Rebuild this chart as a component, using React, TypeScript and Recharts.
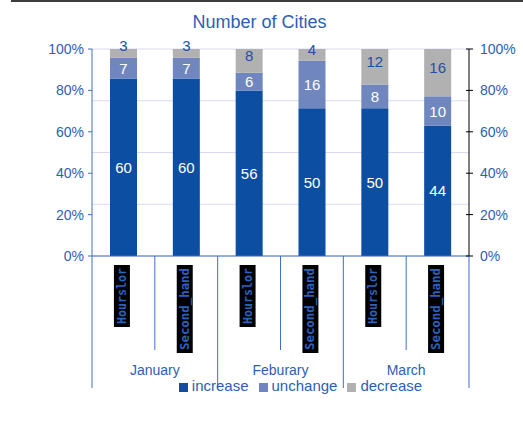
import React from 'react';
import { BarChart, Bar, XAxis, YAxis, CartesianGrid, Legend, LabelList } from 'recharts';

const months = ['January', 'Feburary', 'March'];
const sellers = ['Hourslor', 'Second_hand'];
const seriesNames = ['increase', 'unchange', 'decrease'];
const increase = [60, 60, 56, 50, 50, 44];
const unchange = [7, 7, 6, 16, 8, 10];
const decrease = [3, 3, 8, 4, 12, 16];
const percentTicks = [0, 0.2, 0.4, 0.6, 0.8, 1];

const data = increase.map((v, i) => ({
  key: `${months[Math.floor(i / 2)]}-${sellers[i % 2]}`,
  month: months[Math.floor(i / 2)],
  seller: sellers[i % 2],
  increase: v,
  unchange: unchange[i],
  decrease: decrease[i],
}));

const FONT = '"Liberation Sans", Arial, sans-serif';
const TEXT_BLUE = '#2D5EB5';
const LINE_BLUE = '#3F6FC4';

const pct = (v: number) => `${Math.round(v * 100)}%`;

function CategoryTick(props: any) {
  const { x, y, payload } = props;
  const idx = payload?.index ?? props.index;
  const half = payload?.offset ?? 31.4;
  const row = data[idx];
  const boxH = row.seller === 'Hourslor' ? 62 : 88;
  const cx = x - 1.5;
  const top = y + 9;
  const cy = top + boxH / 2;
  const groupStart = idx % 2 === 0;
  return (
    <g>
      <line x1={x - half} y1={y} x2={x - half} y2={y + (groupStart ? 132 : 94)} stroke={LINE_BLUE} />
      {idx === data.length - 1 && (
        <line x1={x + half} y1={y} x2={x + half} y2={y + 132} stroke={LINE_BLUE} />
      )}
      <rect x={cx - 8} y={top} width={16} height={boxH} fill="#000" />
      <text
        x={cx}
        y={cy}
        transform={`rotate(-90 ${cx} ${cy})`}
        textAnchor="middle"
        dominantBaseline="central"
        textLength={boxH - 6}
        lengthAdjust="spacingAndGlyphs"
        fontFamily='"DejaVu Sans Mono", monospace'
        fontWeight="bold"
        fontSize={12}
        fill="#2A62C0"
      >
        {row.seller}
      </text>
      {!groupStart && (
        <text x={x - half} y={y + 114} textAnchor="middle" dominantBaseline="central" fontFamily={FONT} fontSize={14} fill={TEXT_BLUE}>
          {row.month}
        </text>
      )}
    </g>
  );
}

function RightTick(props: any) {
  const { x, y, payload } = props;
  return (
    <g>
      <line x1={x - 14} y1={y} x2={x - 7} y2={y} stroke="#000" />
      <text x={x} y={y} dominantBaseline="central" fontFamily={FONT} fontSize={14} fill={TEXT_BLUE}>
        {pct(payload.value)}
      </text>
    </g>
  );
}

// small segments push their label up above the bar top, like the original
const segmentLabel = (color: string, dy: number) => (p: any) => {
  const { x, y, width, height, value } = p;
  const shift = height < 10 ? dy - 3 : dy;
  return (
    <text
      x={x + width / 2}
      y={y + height / 2 + shift}
      textAnchor="middle"
      dominantBaseline="central"
      fontFamily={FONT}
      fontSize={15}
      fill={color}
    >
      {value}
    </text>
  );
};

export default function App() {
  return (
    <div style={{ position: 'absolute', left: 0, top: 0, width: 523, height: 421, background: '#fff' }}>
      <div style={{ position: 'absolute', left: 11, top: 0, right: 0, height: 2, background: '#3c3c3c' }} />
      <div
        style={{
          position: 'absolute',
          top: 12,
          left: 0,
          width: 519,
          textAlign: 'center',
          fontFamily: FONT,
          fontSize: 18,
          color: TEXT_BLUE,
        }}
      >
        Number of Cities
      </div>
      <BarChart
        width={523}
        height={421}
        data={data}
        stackOffset="expand"
        margin={{ top: 49, right: 0, left: 0, bottom: 30 }}
      >
        <CartesianGrid vertical={false} stroke="#D8DBEE" />
        <XAxis
          dataKey="key"
          interval={0}
          height={135}
          tickLine={false}
          tickSize={0}
          tickMargin={0}
          axisLine={{ stroke: LINE_BLUE }}
          tick={<CategoryTick />}
        />
        <YAxis
          yAxisId="left"
          width={92}
          domain={[0, 1]}
          ticks={percentTicks}
          tickFormatter={pct}
          tickSize={4}
          tickMargin={4}
          axisLine={{ stroke: LINE_BLUE }}
          tickLine={{ stroke: LINE_BLUE }}
          tick={{ fill: TEXT_BLUE, fontSize: 14, fontFamily: FONT }}
        />
        <YAxis
          yAxisId="right"
          orientation="right"
          width={54}
          domain={[0, 1]}
          ticks={percentTicks}
          tickSize={4}
          tickMargin={7}
          tickLine={false}
          axisLine={{ stroke: '#000' }}
          tick={<RightTick />}
        />
        <Legend
          verticalAlign="middle"
          align="center"
          layout="horizontal"
          iconType="square"
          iconSize={9}
          itemSorter={(item: any) => seriesNames.indexOf(item.dataKey ?? item.value)}
          wrapperStyle={{ top: 377, left: 78, width: 455 }}
          formatter={(value) => (
            <span style={{ color: TEXT_BLUE, fontSize: 15, fontFamily: FONT }}>{value}</span>
          )}
        />
        <Bar yAxisId="left" dataKey="increase" stackId="a" fill="#0B4EA2" barSize={27} isAnimationActive={false}>
          <LabelList dataKey="increase" content={segmentLabel('#ffffff', 0)} />
        </Bar>
        <Bar yAxisId="left" dataKey="unchange" stackId="a" fill="#6F87BE" barSize={27} isAnimationActive={false}>
          <LabelList dataKey="unchange" content={segmentLabel('#ffffff', 0)} />
        </Bar>
        <Bar yAxisId="left" dataKey="decrease" stackId="a" fill="#B1B1B1" barSize={27} isAnimationActive={false}>
          <LabelList dataKey="decrease" content={segmentLabel('#1F4FA3', -5)} />
        </Bar>
      </BarChart>
    </div>
  );
}
